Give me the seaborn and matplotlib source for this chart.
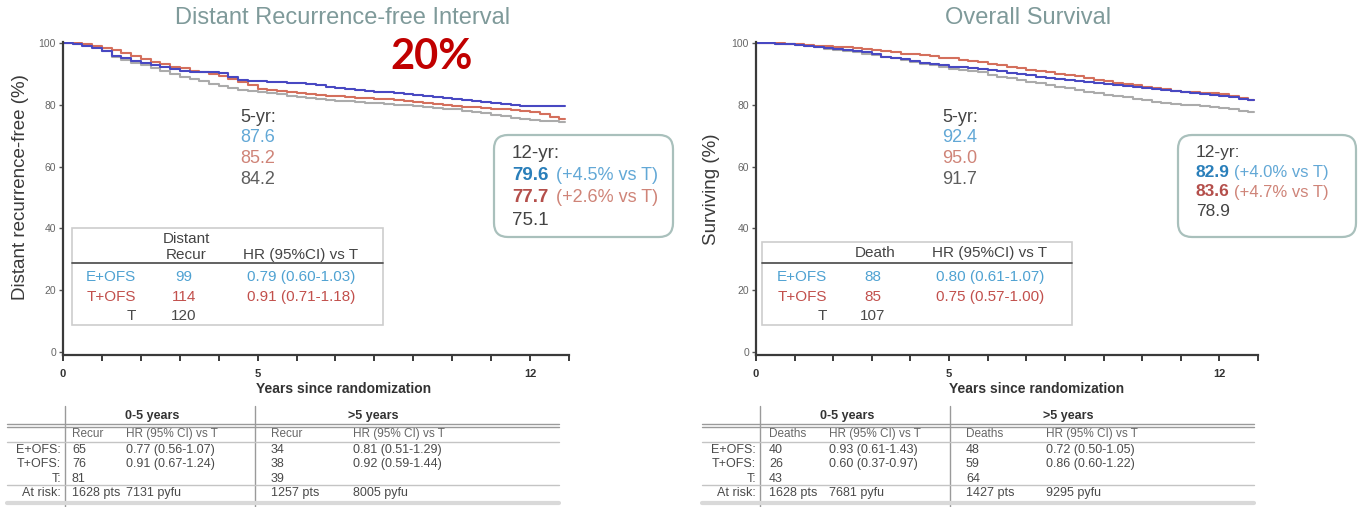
import matplotlib
matplotlib.use("Agg")
import matplotlib.pyplot as plt
from matplotlib.patches import FancyBboxPatch, Rectangle
import pandas as pd
import seaborn as sns

# ---------------------------------------------------------------- data
years = [0, 0.25, 0.5, 0.75, 1, 1.25, 1.5, 1.75, 2, 2.25, 2.5, 2.75, 3, 3.25,
         3.5, 3.75, 4, 4.25, 4.5, 4.75, 5, 5.25, 5.5, 5.75, 6, 6.25, 6.5, 6.75,
         7, 7.25, 7.5, 7.75, 8, 8.25, 8.5, 8.75, 9, 9.25, 9.5, 9.75, 10, 10.25,
         10.5, 10.75, 11, 11.25, 11.5, 11.75, 12, 12.25, 12.5, 12.75, 12.9]

arms = ["T", "T+OFS", "E+OFS"]          # drawing order (E+OFS on top)
row_arms = ["E+OFS", "T+OFS", "T"]      # table order

# Distant recurrence-free interval (%)
drfi_e_ofs = [100, 99.8, 99.2, 98.4, 97.3, 95.8, 95.0, 94.3, 93.5, 92.8, 92.2, 91.6,
              91.1, 90.7, 90.6, 90.5, 90.4, 89.0, 88.0, 87.8, 87.6, 87.5, 87.3, 87.2,
              87.0, 86.8, 86.5, 85.9, 85.4, 85.0, 84.8, 84.5, 84.3, 84.1, 83.9, 83.6,
              83.3, 82.9, 82.6, 82.3, 81.9, 81.6, 81.2, 80.9, 80.5, 80.2, 79.9, 79.7,
              79.6, 79.6, 79.6, 79.6, 79.6]
drfi_t_ofs = [100, 99.9, 99.6, 99.1, 98.5, 97.6, 96.7, 95.8, 94.8, 93.9, 93.1, 92.4,
              91.8, 91.1, 90.5, 89.9, 89.3, 88.4, 87.4, 86.4, 85.2, 84.9, 84.6, 84.2,
              83.8, 83.5, 83.2, 82.9, 82.7, 82.5, 82.3, 82.1, 82.0, 81.9, 81.7, 81.4,
              81.0, 80.7, 80.4, 80.1, 79.7, 79.4, 79.2, 78.9, 78.7, 78.5, 78.2, 77.9,
              77.7, 76.9, 76.0, 75.4, 75.4]
drfi_t = [100, 99.8, 99.3, 98.6, 97.4, 95.6, 94.6, 93.7, 92.8, 91.9, 91.0, 90.0,
          89.1, 88.3, 87.6, 86.9, 86.1, 85.3, 84.8, 84.5, 84.2, 83.9, 83.5, 83.0,
          82.5, 82.2, 81.9, 81.6, 81.3, 81.1, 80.9, 80.7, 80.5, 80.3, 80.1, 79.8,
          79.5, 79.2, 79.0, 78.8, 78.5, 78.1, 77.7, 77.3, 76.8, 76.3, 75.9, 75.5,
          75.1, 74.9, 74.7, 74.5, 74.5]

# Overall survival (%)
os_e_ofs = [100, 100, 99.8, 99.6, 99.3, 99.0, 98.7, 98.3, 98.0, 97.7, 97.4, 97.1,
            96.6, 95.6, 95.1, 94.7, 94.3, 93.7, 93.2, 92.8, 92.4, 92.2, 91.9, 91.6,
            91.2, 90.8, 90.3, 89.9, 89.5, 89.1, 88.7, 88.4, 88.0, 87.7, 87.3, 87.0,
            86.7, 86.4, 86.1, 85.8, 85.4, 85.1, 84.8, 84.5, 84.2, 83.9, 83.5, 83.2,
            82.9, 82.5, 82.0, 81.7, 81.6]
os_t_ofs = [100, 100, 99.9, 99.8, 99.6, 99.4, 99.2, 99.0, 98.8, 98.6, 98.4, 98.2,
            97.9, 97.4, 97.0, 96.6, 96.3, 96.0, 95.7, 95.3, 95.0, 94.6, 94.2, 93.8,
            93.3, 92.8, 92.4, 91.9, 91.4, 91.0, 90.6, 90.1, 89.6, 89.2, 88.7, 88.2,
            87.7, 87.2, 86.7, 86.3, 85.9, 85.5, 85.1, 84.6, 84.2, 84.0, 83.9, 83.7,
            83.6, 82.8, 82.2, 81.7, 81.6]
os_t = [100, 100, 99.8, 99.6, 99.3, 99.0, 98.6, 98.2, 97.9, 97.5, 97.1, 96.6,
        96.0, 95.5, 95.0, 94.4, 93.8, 93.3, 92.8, 92.2, 91.7, 91.3, 90.9, 90.5,
        89.8, 89.1, 88.6, 88.1, 87.5, 87.0, 86.5, 85.9, 85.3, 84.8, 84.3, 83.8,
        83.3, 82.8, 82.4, 82.0, 81.5, 81.0, 80.6, 80.3, 80.0, 79.8, 79.6, 79.2,
        78.9, 78.5, 78.1, 77.8, 77.8]

x_tick_years = list(range(0, 14))
x_tick_labels = {0: "0", 5: "5", 12: "12"}
y_ticks = [0, 20, 40, 60, 80, 100]

# Inset tables
drfi_events = [99, 114, 120]
drfi_hr = ["0.79 (0.60-1.03)", "0.91 (0.71-1.18)", ""]
os_events = [88, 85, 107]
os_hr = ["0.80 (0.61-1.07)", "0.75 (0.57-1.00)", ""]

# Tables below the plots (0-5 years / >5 years)
drfi_early_events = [65, 76, 81]
drfi_early_hr = ["0.77 (0.56-1.07)", "0.91 (0.67-1.24)", ""]
drfi_late_events = [34, 38, 39]
drfi_late_hr = ["0.81 (0.51-1.29)", "0.92 (0.59-1.44)", ""]
drfi_at_risk = ["1628 pts", "7131 pyfu", "1257 pts", "8005 pyfu"]

os_early_events = [40, 26, 43]
os_early_hr = ["0.93 (0.61-1.43)", "0.60 (0.37-0.97)", ""]
os_late_events = [48, 59, 64]
os_late_hr = ["0.72 (0.50-1.05)", "0.86 (0.60-1.22)", ""]
os_at_risk = ["1628 pts", "7681 pyfu", "1427 pts", "9295 pyfu"]

# ---------------------------------------------------------------- style
line_colors = {"E+OFS": "#4848c2", "T+OFS": "#d46f5c", "T": "#ababab"}
txt_colors = {"E+OFS": "#4fa2d2", "T+OFS": "#c2504c", "T": "#4a4a4a"}
soft_colors = {"E+OFS": "#62a8d6", "T+OFS": "#cf8478", "T": "#5e5e5e"}
bold_colors = {"E+OFS": "#2a7fba", "T+OFS": "#b44f4b", "T": "#4a4a4a"}
title_color = "#7f9a9a"
box_edge = "#a9c0bc"

sns.set_theme(style="ticks")
plt.rcParams["font.family"] = ["Liberation Sans", "DejaVu Sans"]

W, H = 1359, 507
fig = plt.figure(figsize=(W / 100, H / 100), dpi=100)
fig.patch.set_facecolor("white")

Y_TOP, Y_BOT = 41.5, 355.1   # pixel rows of y = 100.5 and y = -1


def axes_px(x0, x1):
    return fig.add_axes([x0 / W, 1 - Y_BOT / H, (x1 - x0) / W, (Y_BOT - Y_TOP) / H])


def km_panel(ax, curves):
    df = pd.DataFrame({
        "Years": years * len(arms),
        "Pct": sum((curves[a] for a in arms), []),
        "Arm": sum(([a] * len(years) for a in arms), []),
    })
    sns.lineplot(data=df, x="Years", y="Pct", hue="Arm", hue_order=arms,
                 palette=line_colors, estimator=None, drawstyle="steps-post",
                 linewidth=1.5, legend=False, ax=ax)
    ax.set_xlim(0, 13)
    ax.set_ylim(-1, 100.5)
    ax.set_xticks(x_tick_years)
    ax.set_xticklabels([x_tick_labels.get(t, "") for t in x_tick_years])
    ax.set_yticks(y_ticks)
    ax.set_xlabel("")
    ax.set_ylabel("")
    ax.set_facecolor("none")
    for s in ("top", "right"):
        ax.spines[s].set_visible(False)
    for s in ("left", "bottom"):
        ax.spines[s].set_color("#3a3a3a")
        ax.spines[s].set_linewidth(1.6)
    ax.tick_params(axis="x", direction="out", length=4, width=1.4, color="#3a3a3a",
                   pad=6, labelsize=8, labelcolor="#333333")
    ax.tick_params(axis="y", direction="out", length=3, width=1.0, color="#555555",
                   pad=2, labelsize=7.5, labelcolor="#666666")
    for lab in ax.get_xticklabels():
        lab.set_fontweight("bold")


drfi = {"E+OFS": drfi_e_ofs, "T+OFS": drfi_t_ofs, "T": drfi_t}
surv = {"E+OFS": os_e_ofs, "T+OFS": os_t_ofs, "T": os_t}

ax1 = axes_px(63, 569)
km_panel(ax1, drfi)
ax2 = axes_px(756, 1258)
km_panel(ax2, surv)

# ---------------------------------------------------------------- overlay (pixel coordinates)
ov = fig.add_axes([0, 0, 1, 1])
ov.set_xlim(0, W)
ov.set_ylim(H, 0)
ov.axis("off")
ov.set_zorder(5)
ov.patch.set_alpha(0)


def T(x, y, s, **kw):
    kw.setdefault("va", "center")
    kw.setdefault("color", "#444444")
    ov.text(x, y, s, **kw)


i5, i12 = years.index(5), years.index(12)

# titles, axis labels, highlight
T(343, 18, "Distant Recurrence-free Interval", ha="center", fontsize=17, color=title_color)
T(1028, 18, "Overall Survival", ha="center", fontsize=17, color=title_color)
T(432, 57, "20%", ha="center", fontsize=30, fontweight="bold", color="#c00000",
  family=["Lato", "DejaVu Sans"])
T(21, 187, "Distant recurrence-free (%)", ha="center", rotation=90, fontsize=13.5,
  color="#3a3a3a")
T(711, 189, "Surviving (%)", ha="center", rotation=90, fontsize=13.5, color="#3a3a3a")
T(344, 389, "Years since randomization", ha="center", fontsize=10, fontweight="bold",
  color="#333333")
T(1037, 389, "Years since randomization", ha="center", fontsize=10, fontweight="bold",
  color="#333333")


def five_year(cx, curves):
    T(cx, 117, "5-yr:", ha="center", fontsize=13, color="#444444")
    for k, a in enumerate(row_arms):
        T(cx, 137 + 21.5 * k, f"{curves[a][i5]:.1f}", ha="center", fontsize=13,
          color=soft_colors[a])


five_year(258, drfi)
five_year(960, surv)


def twelve_year(x0, y0, w, h, curves, fs, dy, gap):
    ov.add_patch(FancyBboxPatch((x0, y0), w, h, boxstyle="round,pad=0,rounding_size=14",
                                fc="white", ec=box_edge, lw=1.6))
    tx = x0 + 18
    T(tx, y0 + 18, "12-yr:", ha="left", fontsize=fs, color="#444444")
    ref = curves["T"][i12]
    for k, a in enumerate(row_arms):
        yy = y0 + 18 + dy * (k + 1)
        v = curves[a][i12]
        if a == "T":
            T(tx, yy, f"{v:.1f}", ha="left", fontsize=fs, color="#444444")
        else:
            T(tx, yy, f"{v:.1f}", ha="left", fontsize=fs, fontweight="bold",
              color=bold_colors[a])
            T(tx + gap, yy, f"(+{v - ref:.1f}% vs T)", ha="left", fontsize=fs - 0.5,
              color=soft_colors[a])


twelve_year(494, 135, 179, 102, drfi, 13.5, 22.5, 44)
twelve_year(1178, 135, 178, 102, surv, 12.5, 19.5, 38)


def inset_table(x0, y0, w, h, header_lines, events, hrs, lab_r, cnt_c, hr_c):
    ov.add_patch(Rectangle((x0, y0), w, h, fc="white", ec="#cdcdcd", lw=1.2))
    for txt, yy in header_lines:
        T(cnt_c + 2, yy, txt, ha="center", fontsize=11)
    T(hr_c, header_lines[-1][1], "HR (95%CI) vs T", ha="center", fontsize=11)
    ov.plot([x0, x0 + w], [263, 263], color="#555555", lw=1.3)
    for k, a in enumerate(row_arms):
        yy = 277 + 19.7 * k
        col = txt_colors[a]
        T(lab_r, yy, a, ha="right", fontsize=11, color=col)
        T(cnt_c, yy, str(events[k]), ha="center", fontsize=11, color=col)
        T(hr_c, yy, hrs[k], ha="center", fontsize=11, color=col)


inset_table(72, 228, 311, 97, [("Distant", 239), ("Recur", 255)], drfi_events, drfi_hr,
            136, 184, 301)
inset_table(762, 242, 310, 83, [("Death", 253)], os_events, os_hr, 827, 873, 990)


def period_table(v1, cols, label, early_ev, early_hr, late_ev, late_hr, at_risk):
    x_left, x_right = v1 - 58, v1 + 494
    fs = 9
    c = "#4a4a4a"
    for xv in (v1, v1 + 190):
        ov.plot([xv, xv], [406, 507], color="#9a9a9a", lw=1.0)
    T(v1 + 87, 416, "0-5 years", ha="center", fontsize=fs, fontweight="bold", color="#333333")
    T(v1 + 308, 416, ">5 years", ha="center", fontsize=fs, fontweight="bold", color="#333333")
    ov.plot([x_left, x_right], [424, 424], color="#9a9a9a", lw=1.0)
    ov.plot([x_left, x_right], [427, 427], color="#9a9a9a", lw=1.0)
    sub = [label, "HR (95% CI) vs T", label, "HR (95% CI) vs T"]
    for xc, s in zip(cols, sub):
        T(xc, 434, s, ha="left", fontsize=8.5, color="#666666")
    ov.plot([x_left, x_right], [442, 442], color="#c4c4c4", lw=1.0)
    for k, a in enumerate(row_arms):
        yy = 450 + 14.3 * k
        T(v1 - 4, yy, a + ":", ha="right", fontsize=fs, color=c)
        vals = [str(early_ev[k]), early_hr[k], str(late_ev[k]), late_hr[k]]
        for xc, s in zip(cols, vals):
            T(xc, yy, s, ha="left", fontsize=fs, color=c)
    ov.plot([x_left, x_right], [485, 485], color="#c4c4c4", lw=1.0)
    T(v1 - 4, 493, "At risk:", ha="right", fontsize=fs, color=c)
    for xc, s in zip(cols, at_risk):
        T(xc, 493, s, ha="left", fontsize=fs, color=c)
    ov.plot([x_left, x_right], [503, 503], color="#d9d9d9", lw=3)


period_table(65, [72, 126, 271, 353], "Recur", drfi_early_events, drfi_early_hr,
             drfi_late_events, drfi_late_hr, drfi_at_risk)
period_table(760, [769, 829, 966, 1046], "Deaths", os_early_events, os_early_hr,
             os_late_events, os_late_hr, os_at_risk)

fig.savefig("out.png", dpi=100, facecolor="white")
